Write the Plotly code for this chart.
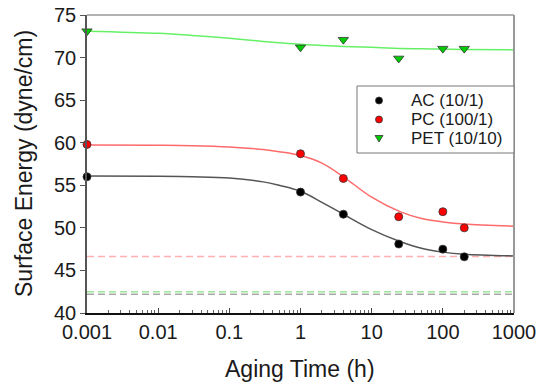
import plotly.graph_objects as go

# ---- data ----
time_h = [0.001, 1, 4, 24, 100, 200]
ac_energy = [56.0, 54.2, 51.6, 48.1, 47.5, 46.6]
pc_energy = [59.8, 58.7, 55.8, 51.3, 51.9, 50.0]
pet_energy = [73.1, 71.2, 72.1, 69.9, 71.05, 71.05]

fit_time = [0.001, 0.01, 0.03, 0.1, 0.3, 0.5, 1, 2, 4, 10, 25, 50, 100, 200, 1000]
ac_fit = [56.1, 56.07, 56.0, 55.85, 55.4, 55.0, 54.3, 53.0, 51.6, 49.8, 48.4, 47.6, 47.15, 46.9, 46.7]
pc_fit = [59.73, 59.7, 59.65, 59.5, 59.2, 58.95, 58.5, 57.6, 56.0, 53.6, 51.9, 51.1, 50.7, 50.45, 50.2]
pet_fit = [73.1, 72.85, 72.6, 72.26, 71.9, 71.75, 71.56, 71.42, 71.3, 71.2, 71.08, 71.03, 71.0, 70.96, 70.9]

ac_base = 42.2
pc_base = 46.65
pet_base = 42.5

series_names = ["AC (10/1)", "PC (100/1)", "PET (10/10)"]
x_ticks = [0.001, 0.01, 0.1, 1, 10, 100, 1000]
x_tick_labels = ["0.001", "0.01", "0.1", "1", "10", "100", "1000"]

FONT = "Liberation Sans, Arial, sans-serif"
TXT = "#1a1a1a"

fig = go.Figure()

xr = [x_ticks[0], x_ticks[-1]]
# dashed reference lines
for val, col in [(pc_base, "#ffb0b0"), (pet_base, "#9be89b"), (ac_base, "#a8a8a8")]:
    fig.add_trace(go.Scatter(x=xr, y=[val, val], mode="lines",
                             line=dict(color=col, width=1.5, dash="7px,4px"),
                             showlegend=False, hoverinfo="skip"))

# fit curves
for fy, col in [(ac_fit, "#555555"), (pc_fit, "#ff6a6a"), (pet_fit, "#66f066")]:
    fig.add_trace(go.Scatter(x=fit_time, y=fy, mode="lines",
                             line=dict(color=col, width=1.5, shape="spline", smoothing=1.0),
                             showlegend=False, hoverinfo="skip"))

# markers
fig.add_trace(go.Scatter(x=time_h, y=ac_energy, mode="markers", name=series_names[0],
                         marker=dict(symbol="circle", size=8, color="#000000",
                                     line=dict(color="#333333", width=0.8)),
                         cliponaxis=False, showlegend=False))
fig.add_trace(go.Scatter(x=time_h, y=pc_energy, mode="markers", name=series_names[1],
                         marker=dict(symbol="circle", size=8, color="#ff0000",
                                     line=dict(color="#333333", width=0.8)),
                         cliponaxis=False, showlegend=False))
fig.add_trace(go.Scatter(x=time_h, y=pet_energy, mode="markers", name=series_names[2],
                         marker=dict(symbol="triangle-down", size=9, color="#00cc00",
                                     line=dict(color="#333333", width=0.8)),
                         cliponaxis=False, showlegend=False))

# layout geometry (pixels; page body margin is removed so figure starts at 0,0)
W, H = 543, 389
L, R, T, B = 87, 29, 15, 76
pw, ph = W - L - R, H - T - B

def px(xs):
    return (xs - L) / pw

def py(ys):
    return 1 - (ys - T) / ph

shapes = []
# frame: top and right grey lines
shapes.append(dict(type="line", xref="paper", yref="paper", x0=0, x1=1, y0=1, y1=1,
                   line=dict(color="#999999", width=1.5)))
shapes.append(dict(type="line", xref="paper", yref="paper", x0=1, x1=1, y0=0, y1=1,
                   line=dict(color="#999999", width=2)))
# custom legend
leg_y = [100.5, 119.5, 138.5]
shapes.append(dict(type="rect", xref="paper", yref="paper", x0=px(357), x1=1,
                   y0=py(153), y1=py(86), line=dict(color="#777777", width=1),
                   fillcolor="white", layer="above"))
r = 3.5
kx = 379
shapes.append(dict(type="circle", xref="paper", yref="paper", x0=px(kx - r), x1=px(kx + r),
                   y0=py(leg_y[0] + r), y1=py(leg_y[0] - r), fillcolor="#000000",
                   line=dict(color="#333333", width=0.8), layer="above"))
shapes.append(dict(type="circle", xref="paper", yref="paper", x0=px(kx - r), x1=px(kx + r),
                   y0=py(leg_y[1] + r), y1=py(leg_y[1] - r), fillcolor="#ff0000",
                   line=dict(color="#333333", width=0.8), layer="above"))
ty = leg_y[2]
path = "M {a},{b} L {c},{b} L {d},{e} Z".format(
    a=px(kx - 4), c=px(kx + 4), b=py(ty - 3), d=px(kx), e=py(ty + 3.5))
shapes.append(dict(type="path", xref="paper", yref="paper", path=path,
                   fillcolor="#00cc00", line=dict(color="#333333", width=0.8), layer="above"))

annotations = []
for name, yy in zip(series_names, leg_y):
    annotations.append(dict(xref="paper", yref="paper", x=px(409), y=py(yy),
                            text=name, showarrow=False, xanchor="left", yanchor="middle",
                            font=dict(family=FONT, size=17, color=TXT)))
# axis titles
annotations.append(dict(xref="paper", yref="paper", x=px(300), y=py(369),
                        text="Aging Time (h)", showarrow=False, xanchor="center", yanchor="middle",
                        font=dict(family=FONT, size=23, color=TXT)))
annotations.append(dict(xref="paper", yref="paper", x=px(24), y=py(164),
                        text="Surface Energy (dyne/cm)", showarrow=False, textangle=-90,
                        xanchor="center", yanchor="middle",
                        font=dict(family=FONT, size=23, color=TXT)))

fig.update_layout(
    width=W, height=H,
    margin=dict(l=L, r=R, t=T, b=B, autoexpand=False),
    plot_bgcolor="white", paper_bgcolor="white",
    showlegend=False,
    shapes=shapes, annotations=annotations,
    font=dict(family=FONT, color=TXT),
    xaxis=dict(
        type="log", range=[-3, 3], automargin=False, ticklabeloverflow="allow",
        tickvals=x_ticks, ticktext=x_tick_labels,
        showgrid=False, zeroline=False,
        showline=True, linecolor="#111111", linewidth=1.5,
        ticks="inside", ticklen=5, tickcolor="#444444",
        minor=dict(ticks="inside", ticklen=3, tickcolor="#666666", dtick="D1", showgrid=False),
        tickfont=dict(size=20, color=TXT),
    ),
    yaxis=dict(
        range=[40, 75], dtick=5, automargin=False, ticklabeloverflow="allow",
        showgrid=False, zeroline=False,
        showline=True, linecolor="#555555", linewidth=1.5,
        ticks="outside", ticklen=5, tickcolor="#555555",
        tickfont=dict(size=20, color=TXT),
    ),
)

fig.write_html("out.html", config={"displayModeBar": False},
               post_script="document.body.style.margin='0';document.body.style.overflow='hidden';")
